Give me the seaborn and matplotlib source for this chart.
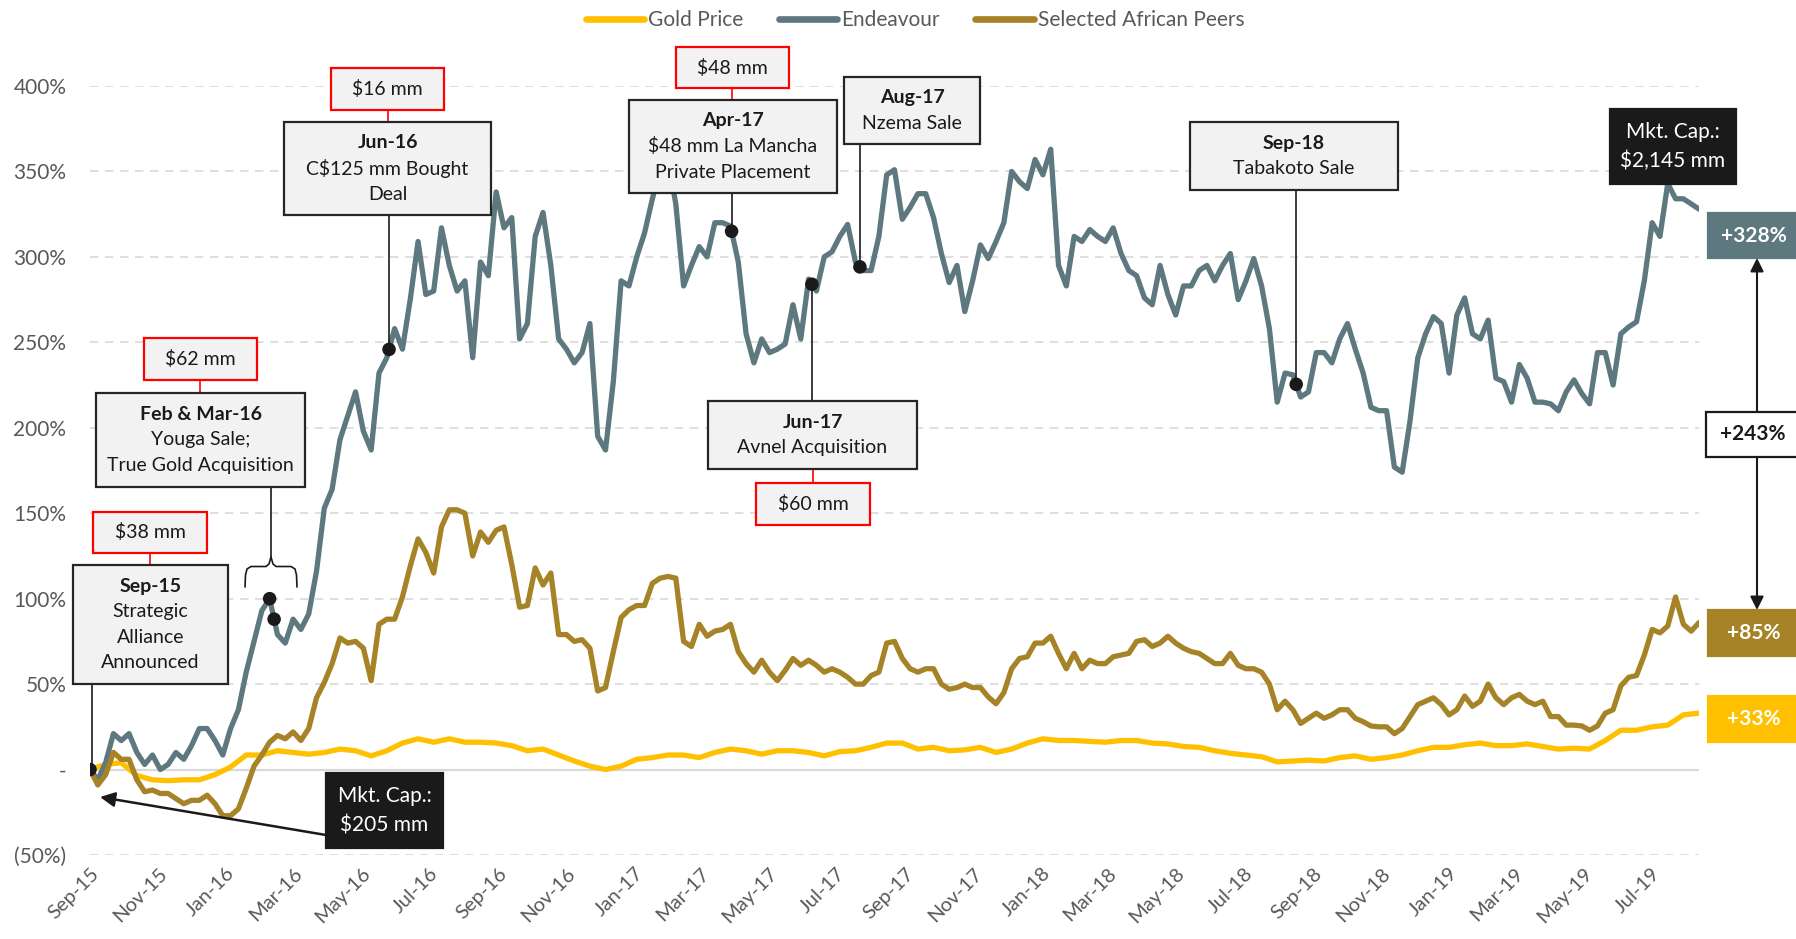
import numpy as np
import pandas as pd
import matplotlib.pyplot as plt
import matplotlib.dates as mdates
import seaborn as sns
from matplotlib.patches import Rectangle
from matplotlib.lines import Line2D

# weekly % change since 1-Sep-2015 (gold read every second week)
start = '2015-09-01'
endeavour = [0, -6, 4, 21, 17, 21, 10, 3, 8.5, 0,
             3, 10, 6, 14, 24, 24, 17, 8.5, 24, 35,
             57, 75, 93, 100, 79, 74, 88, 82, 91, 116,
             153, 164, 193, 207, 221, 198, 187, 232, 241, 258,
             246, 275, 309, 278, 280, 317, 295, 280, 286, 241,
             297, 289, 338, 317, 323, 252, 261, 312, 326, 295,
             252, 246, 238, 244, 261, 195, 187, 227, 286, 283,
             300, 314, 334, 351, 357, 331, 283, 295, 306, 300,
             320, 320, 318, 297, 255, 238, 252, 244, 246, 249,
             272, 252, 287, 280, 300, 303, 312, 319, 297, 292,
             292, 312, 348, 351, 322, 329, 337, 337, 323, 302,
             285, 295, 268, 286, 307, 299, 309, 320, 350, 344,
             340, 357, 348, 363, 295, 283, 312, 309, 316, 312,
             309, 317, 302, 292, 289, 276, 272, 295, 278, 266,
             283, 283, 292, 295, 286, 295, 302, 275, 286, 299,
             283, 258, 215, 232, 231, 218, 221, 244, 244, 238,
             252, 261, 246, 232, 212, 210, 210, 177, 174, 204,
             241, 255, 265, 261, 232, 266, 276, 255, 252, 263,
             229, 227, 215, 237, 229, 215, 215, 214, 210, 221,
             228, 220, 214, 244, 244, 225, 255, 259, 262, 286,
             320, 312, 343, 334, 334, 331, 328]
peers = [0, -9, -3, 10, 6, 6, -6, -13, -12, -14,
         -14, -17, -20, -18, -18, -15, -20, -27, -27, -23,
         -11, 2, 8.5, 16, 20, 18, 22, 17, 24, 42,
         51, 62, 77, 74, 75, 71, 52, 85, 88, 88,
         101, 119, 135, 127, 115, 142, 152, 152, 150, 125,
         139, 133, 140, 142, 120, 95, 96, 118, 108, 115,
         79, 79, 75, 76, 71, 46, 48, 69, 89, 93.5,
         96, 96, 109, 112, 113, 112, 75, 72, 85, 78,
         81, 82, 85, 69, 62, 57, 64, 57, 52, 58,
         65, 61, 64, 61, 57, 59, 57, 54, 50, 50,
         55, 57, 74, 75, 65, 59, 57, 59, 59, 50,
         47, 48, 50, 48, 48, 42.5, 38.5, 45, 59, 65,
         66, 74, 74, 78, 68, 59, 68, 59, 64, 62,
         62, 66, 67, 68, 75, 76, 72, 74, 78, 74,
         71, 69, 68, 65, 62, 62, 68, 61, 59, 59,
         57, 50, 35, 40, 35, 27, 30, 33, 30, 32,
         35, 35, 30, 28, 25.5, 25, 25, 21, 24, 31,
         38, 40, 42, 38, 32, 35, 43, 37, 40, 50,
         42, 38, 42, 44, 40, 38, 40, 31, 31, 26,
         26, 25.5, 23, 25.5, 33, 35, 49, 54, 55, 67,
         82, 80, 84, 101, 85, 81, 86]
gold = [0, 3, 4, -3.5, -6, -6.5, -6, -6, -3, 1.5,
        8.5, 8.5, 11, 10, 9, 10, 12, 11, 8, 11,
        15.5, 18, 16, 18, 16, 16, 15.5, 14, 11, 12,
        8.5, 5, 2, 0, 2, 6, 7, 8.5, 8.5, 7,
        10, 12, 11, 9, 11, 11, 10, 8, 10.5, 11,
        13, 15.5, 15.5, 12, 13, 11, 11.5, 13, 10, 12,
        15.5, 18, 17, 17, 16.5, 16, 17, 17, 15.5, 15,
        13.5, 13, 11, 9.5, 8.5, 7.5, 4.5, 5, 5.5, 5,
        7, 8, 6, 7, 8.5, 11, 13, 13, 14.5, 15.5,
        14, 14, 15, 13.5, 12, 12.5, 12, 17, 23, 23,
        25, 26, 32, 33]

event_dates = ['2015-09-01', '2016-02-09', '2016-02-13', '2016-05-26',
               '2017-03-29', '2017-06-09', '2017-07-22', '2018-08-17']
ytick_labels = ['(50%)', '-', '50%', '100%', '150%', '200%', '250%', '300%', '350%', '400%']
end_labels = ['+328%', '+243%', '+85%', '+33%']

GOLD = '#FFC000'
EDV = '#5E787F'
PEER = '#A68326'
TXT = '#595959'
W, H = 1796, 939

sns.set_theme(style='white')
plt.rcParams['font.family'] = ['Lato', 'DejaVu Sans']

weeks = pd.date_range(start, periods=len(endeavour), freq='7D')
df = pd.DataFrame({'date': weeks, 'Endeavour': endeavour, 'Peers': peers})
gold_df = pd.DataFrame({'date': weeks[::2], 'Gold': gold})


def fx(x):
    return x / W


def fy(y):
    return 1 - y / H


fig = plt.figure(figsize=(W / 100, H / 100), dpi=100)
ax = fig.add_axes([fx(90), fy(855), (1699 - 90) / W, (855 - 86) / H])

sns.lineplot(data=gold_df, x='date', y='Gold', color=GOLD, lw=3.8, ax=ax, label='Gold Price')
sns.lineplot(data=df, x='date', y='Endeavour', color=EDV, lw=3.8, ax=ax, label='Endeavour')
sns.lineplot(data=df, x='date', y='Peers', color=PEER, lw=3.8, ax=ax, label='Selected African Peers')

# event dots on the Endeavour line
ev = pd.to_datetime(event_dates)
ev_vals = np.interp(mdates.date2num(ev), mdates.date2num(weeks), endeavour)
sns.scatterplot(x=ev, y=ev_vals, color='#1A1A1A', s=95, ax=ax, zorder=6, legend=False, edgecolor='none')

ax.set_xlim(weeks[0], weeks[-1])
ax.set_ylim(-50, 400)
yt = list(range(-50, 401, 50))
ax.set_yticks(yt)
ax.set_yticklabels(ytick_labels)
for v in yt:
    if v == 0:
        ax.axhline(v, color='#D9D9D9', lw=1.6, zorder=0)
    else:
        ax.axhline(v, color='#D9D9D9', lw=1.2, ls=(0, (5, 4)), zorder=0)
for s in ax.spines.values():
    s.set_visible(False)
ax.set_xlabel('')
ax.set_ylabel('')
ax.xaxis.set_major_locator(mdates.MonthLocator(bymonth=[1, 3, 5, 7, 9, 11]))
ax.xaxis.set_major_formatter(mdates.DateFormatter('%b-%y'))
ax.tick_params(axis='both', length=0, labelcolor=TXT, labelsize=15)
ax.tick_params(axis='x', labelsize=14.5)
ax.tick_params(axis='y', pad=17)
ax.tick_params(axis='x', pad=7)
for lab in ax.get_xticklabels():
    lab.set_rotation(45)
    lab.set_ha('right')
    lab.set_va('top')
    lab.set_rotation_mode('anchor')

handles, labels = ax.get_legend_handles_labels()
ax.get_legend().remove()
leg = fig.legend(handles, labels, loc='center', bbox_to_anchor=(fx(915), fy(20)), ncol=3,
                 frameon=False, fontsize=15, handlelength=2.8, handletextpad=0.2,
                 columnspacing=1.7, labelcolor=TXT)
for h in leg.legend_handles:
    h.set_linewidth(4.8)
    h.set_solid_capstyle('round')

pts = ax.transData.transform(np.column_stack([mdates.date2num(ev), ev_vals]))
dot_x = pts[:, 0]
dot_y = H - pts[:, 1]


def rect(x0, y0, x1, y1, fc='#F2F2F2', ec='#262626', lw=1.6):
    fig.add_artist(Rectangle((fx(x0), fy(y1)), (x1 - x0) / W, (y1 - y0) / H,
                             transform=fig.transFigure, facecolor=fc, edgecolor=ec,
                             linewidth=lw, zorder=5))


def seg(points, color='#1A1A1A', lw=1.2):
    fig.add_artist(Line2D([fx(p[0]) for p in points], [fy(p[1]) for p in points],
                          transform=fig.transFigure, color=color, lw=lw, zorder=4))


def lines_in(x0, y0, x1, y1, lines, bold_first=True, color='#1A1A1A', size=14, step=25.5):
    cx = (x0 + x1) / 2
    cy = (y0 + y1) / 2
    n = len(lines)
    for i, t in enumerate(lines):
        yy = cy + (i - (n - 1) / 2) * step
        fw = 'bold' if (bold_first and i == 0) else 'normal'
        fig.text(fx(cx), fy(yy), t, ha='center', va='center', fontsize=size,
                 fontweight=fw, color=color, zorder=6)


def event_box(box, lines, red=None, red_text=None):
    rect(*box)
    lines_in(*box, lines)
    if red is not None:
        rect(*red, ec='#FF0000')
        lines_in(*red, [red_text], bold_first=False)


# Sep-15
event_box((73, 565, 228, 684), ['Sep-15', 'Strategic', 'Alliance', 'Announced'],
          (93, 512, 207, 553), '$38 mm')
seg([(150, 553), (150, 565)], '#FF0000')
seg([(dot_x[0] + 2, 684), (dot_x[0] + 2, dot_y[0])])

# Feb & Mar-16
event_box((96, 393, 305, 487), ['Feb & Mar-16', 'Youga Sale;', 'True Gold Acquisition'],
          (144, 338, 257, 380), '$62 mm')
seg([(200, 380), (200, 393)], '#FF0000')
seg([(271, 487), (271, 557)])
seg([(245, 587), (245.5, 575), (247, 569), (251, 566.5), (266, 566.5), (269, 564), (271, 557),
     (273, 564), (276, 566.5), (291, 566.5), (295, 569), (296.5, 575), (297, 587)])

# Jun-16
event_box((284, 122, 491, 215), ['Jun-16', 'C$125 mm Bought', 'Deal'],
          (331, 68, 444, 110), '$16 mm')
seg([(388, 110), (388, 122)], '#FF0000')
seg([(dot_x[3], 215), (dot_x[3], dot_y[3])])

# Apr-17
event_box((629, 100, 837, 193), ['Apr-17', '$48 mm La Mancha', 'Private Placement'],
          (676, 47, 789, 88), '$48 mm')
seg([(732, 88), (732, 100)], '#FF0000')
seg([(dot_x[4], 193), (dot_x[4], dot_y[4])])

# Jun-17
event_box((708, 401, 917, 469), ['Jun-17', 'Avnel Acquisition'],
          (756, 483, 870, 525), '$60 mm')
seg([(813, 469), (813, 483)], '#FF0000')
seg([(dot_x[5], 401), (dot_x[5], dot_y[5])])

# Aug-17
event_box((844, 77, 980, 144), ['Aug-17', 'Nzema Sale'])
seg([(dot_x[6], 144), (dot_x[6], dot_y[6])])

# Sep-18
event_box((1190, 122, 1398, 190), ['Sep-18', 'Tabakoto Sale'])
seg([(dot_x[7], 190), (dot_x[7], dot_y[7])])

# market cap call-outs
rect(326, 773, 443, 848, fc='#1A1A1A', ec='#1A1A1A')
lines_in(326, 773, 443, 848, ['Mkt. Cap.:', '$205 mm'], bold_first=False, color='white', size=15, step=29)
fig.add_artist(plt.Annotation('', xy=(fx(100), fy(797)), xytext=(fx(326), fy(835)),
                              xycoords='figure fraction', textcoords='figure fraction',
                              arrowprops=dict(arrowstyle='-|>', color='#1A1A1A', lw=1.8,
                                              mutation_scale=22, shrinkA=0, shrinkB=0),
                              zorder=5))
rect(1610, 109, 1736, 184, fc='#1A1A1A', ec='#1A1A1A')
lines_in(1610, 109, 1736, 184, ['Mkt. Cap.:', '$2,145 mm'], bold_first=False, color='white', size=15, step=29)

# end-of-period labels
rect(1708, 213, 1800, 258, fc=EDV, ec=EDV)
lines_in(1708, 213, 1800, 258, [end_labels[0]], color='white', size=15)
rect(1706, 412, 1800, 457, fc='white', ec='#1A1A1A')
lines_in(1706, 412, 1800, 457, [end_labels[1]], color='#1A1A1A', size=15)
rect(1708, 610, 1800, 656, fc=PEER, ec=PEER)
lines_in(1708, 610, 1800, 656, [end_labels[2]], color='white', size=15)
rect(1708, 696, 1800, 742, fc=GOLD, ec=GOLD)
lines_in(1708, 696, 1800, 742, [end_labels[3]], color='white', size=15)
for a, b in [((1757, 412), (1757, 258)), ((1757, 457), (1757, 610))]:
    fig.add_artist(plt.Annotation('', xy=(fx(b[0]), fy(b[1])), xytext=(fx(a[0]), fy(a[1])),
                                  xycoords='figure fraction', textcoords='figure fraction',
                                  arrowprops=dict(arrowstyle='-|>', color='#1A1A1A', lw=1.5,
                                                  mutation_scale=20, shrinkA=0, shrinkB=0),
                                  zorder=5))

fig.savefig('out.png', dpi=100)
